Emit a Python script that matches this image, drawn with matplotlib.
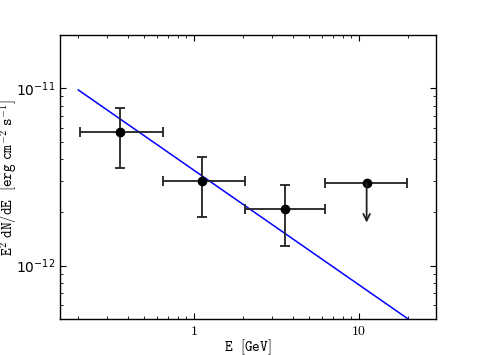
import matplotlib
matplotlib.use("Agg")
import matplotlib.pyplot as plt
from matplotlib.ticker import FuncFormatter, LogLocator, NullFormatter

plt.rcParams['mathtext.fontset'] = 'cm'

# Data points (energy GeV, E^2 dN/dE)
pt_e = [0.36, 1.13, 3.6]
pt_flux = [5.7e-12, 3.0e-12, 2.09e-12]
pt_flux_hi = [7.7e-12, 4.1e-12, 2.85e-12]
pt_flux_lo = [3.56e-12, 1.88e-12, 1.29e-12]
pt_e_lo = [0.204, 0.649, 2.04]
pt_e_hi = [0.649, 2.04, 6.3]

# Upper limit
ul_e = [11.2]
ul_flux = [2.92e-12]
ul_e_lo = [6.3]
ul_e_hi = [19.8]
ul_arrow_end = [1.75e-12]

# Power-law fit line
line_e = [0.2, 20.0]
line_flux = [9.8e-12, 5.0e-13]

fig = plt.figure(figsize=(4.85, 3.55), dpi=100)
ax = fig.add_axes([0.1237, 0.1014, 0.899 - 0.1237, 0.9014 - 0.1014])

ax.plot(line_e, line_flux, color='blue', lw=1.1)

xerr = [[e - lo for e, lo in zip(pt_e, pt_e_lo)], [hi - e for e, hi in zip(pt_e, pt_e_hi)]]
yerr = [[f - lo for f, lo in zip(pt_flux, pt_flux_lo)], [hi - f for f, hi in zip(pt_flux, pt_flux_hi)]]
ax.errorbar(pt_e, pt_flux, xerr=xerr, yerr=yerr, fmt='o', color='black', ms=6,
            ecolor='#222222', elinewidth=1.3, capsize=3.5, capthick=1.3)

uxerr = [[e - lo for e, lo in zip(ul_e, ul_e_lo)], [hi - e for e, hi in zip(ul_e, ul_e_hi)]]
ax.errorbar(ul_e, ul_flux, xerr=uxerr, fmt='o', color='black', ms=6,
            ecolor='#222222', elinewidth=1.3, capsize=3.5, capthick=1.3)
for e, f, end in zip(ul_e, ul_flux, ul_arrow_end):
    ax.annotate('', xy=(e, end), xytext=(e, f),
                arrowprops=dict(arrowstyle='->', color='#222222', lw=1.3,
                                shrinkA=0, shrinkB=0, mutation_scale=12))

ax.set_xscale('log')
ax.set_yscale('log')
ax.set_xlim(0.155, 29.5)
ax.set_ylim(5e-13, 2e-11)

ax.tick_params(which='both', direction='in', top=True, right=True)
ax.tick_params(which='major', length=4, labelsize=10)
ax.tick_params(which='minor', length=2)

ax.xaxis.set_major_locator(LogLocator(base=10))
ax.xaxis.set_major_formatter(FuncFormatter(lambda v, p: r'$\mathtt{%d}$' % round(v) if v >= 1 else ''))
ax.xaxis.set_minor_formatter(NullFormatter())

ax.set_xlabel(r'$\mathtt{E\ \ [GeV]}$', fontsize=10.5)
ax.set_ylabel(r'$\mathtt{E^{2}\ dN/dE\ \ [erg\ cm^{-2}\ s^{-1}]}$', fontsize=10.5)
ax.xaxis.set_label_coords(0.5, -0.066)
ax.yaxis.set_label_coords(-0.108, 0.5)

for s in ax.spines.values():
    s.set_linewidth(1.0)

fig.savefig('out.png', dpi=100)
